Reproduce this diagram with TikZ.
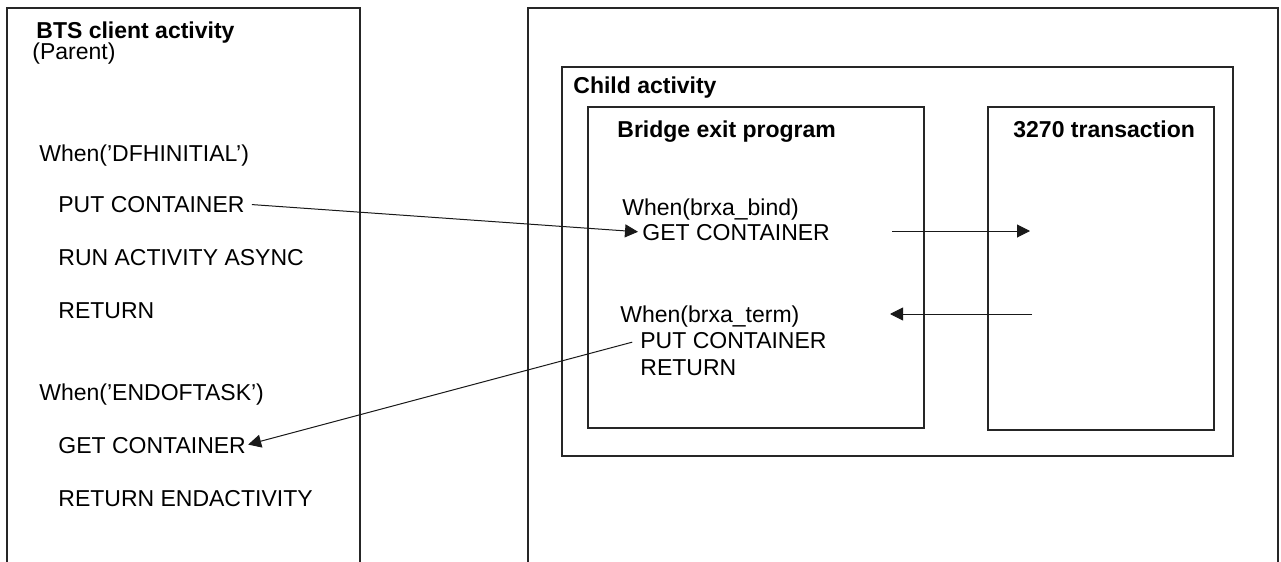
\documentclass[tikz,border=0pt]{standalone}
\usepackage{fontspec}
\setmainfont{Liberation Sans}
\usetikzlibrary{arrows.meta}

\tikzset{
  txt/.style={anchor=base west, inner sep=0pt, font=\fontsize{11.5}{13}\selectfont},
  head/.style={txt, font=\fontsize{11.5}{13}\selectfont\bfseries},
  frame/.style={draw=black!85, line width=0.6pt},
  msg/.style={draw=black!90, line width=0.5pt, -{Triangle[length=6.5pt,width=6.5pt]}}
}

\begin{document}
\begin{tikzpicture}[x=0.5pt, y=-0.5pt]
			\useasboundingbox (0,0) rectangle (1281,562);
			% outer frames, open at the bottom
			\draw[frame] (7,562) -- (7,8) -- (360,8) -- (360,562);
			\draw[frame] (528,562) -- (528,8) -- (1278,8) -- (1278,562);
			\draw[frame] (562,67) rectangle (1233,456);
			\draw[frame] (588,107) rectangle (924,428);
			\draw[frame] (988,107) rectangle (1214,430);

			% parent activity
			\node[head] (bts) at (36,39) {BTS client activity};
			\node[txt] (parent) at (32,60) {(Parent)};
			\node[txt] (wheninit) at (39,161) {When(’DFHINITIAL’)};
			\node[txt] (putp) at (58,212) {PUT CONTAINER};
			\node[txt] (runasync) at (58,265) {RUN ACTIVITY ASYNC};
			\node[txt] (retp) at (58,318) {RETURN};
			\node[txt] (whenend) at (39,400) {When(’ENDOFTASK’)};
			\node[txt] (getp) at (58,453) {GET CONTAINER};
			\node[txt] (retend) at (58,506) {RETURN ENDACTIVITY};

			% child activity
			\node[head] (child) at (573,93) {Child activity};
			\node[head] (bridge) at (617,137) {Bridge exit program};
			\node[head] (trans) at (1013,137) {3270 transaction};
			\node[txt] (whenbind) at (622,215) {When(brxa\_bind)};
			\node[txt] (getc) at (642,240) {GET CONTAINER};
			\node[txt] (whenterm) at (620,322) {When(brxa\_term)};
			\node[txt] (putc) at (640,348) {PUT CONTAINER};
			\node[txt] (retc) at (640,375) {RETURN};

			\coordinate (bindout) at (892,231);
			\coordinate (bindin) at (1030,231);
			\coordinate (termout) at (1032,314);
			\coordinate (termin) at (890,314);

			% messages
			\draw[msg, shorten <=3.5pt, shorten >=2pt] (putp.east) -- (getc.west);
			\draw[msg] (bindout) -- (bindin);
			\draw[msg] (termout) -- (termin);
			\draw[msg, shorten <=4pt, shorten >=1pt] (putc.west) -- (getp.east);
		\end{tikzpicture}
\end{document}
